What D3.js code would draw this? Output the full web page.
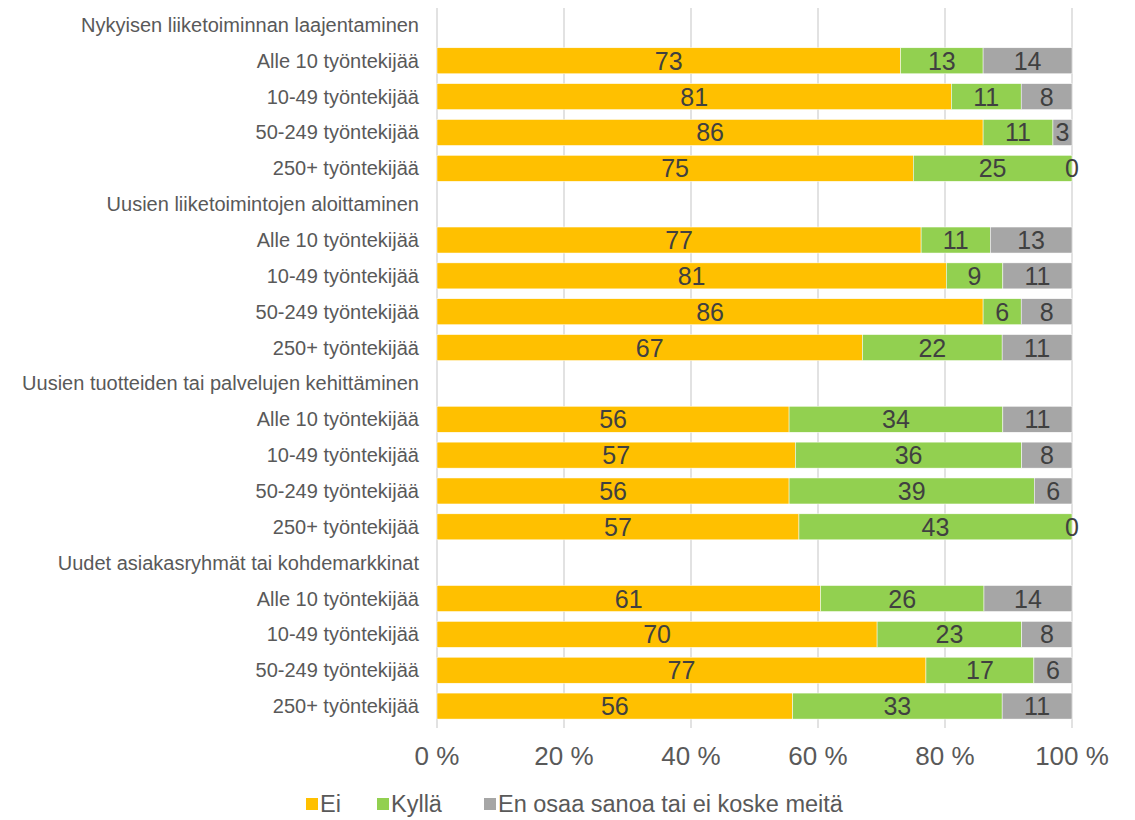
<!DOCTYPE html>
<html>
<head>
<meta charset="utf-8">
<script src="https://cdn.jsdelivr.net/npm/d3@7"></script>
<style>
  body { margin: 0; background: #fff; }
  svg { font-family: "Liberation Sans", Arial, sans-serif; }
</style>
</head>
<body>
<svg width="1135" height="820"></svg>
<script>
// rows: group headers have no values
var rows = [
    "Nykyisen liiketoiminnan laajentaminen",
    "Alle 10 työntekijää", "10-49 työntekijää", "50-249 työntekijää", "250+ työntekijää",
    "Uusien liiketoimintojen aloittaminen",
    "Alle 10 työntekijää", "10-49 työntekijää", "50-249 työntekijää", "250+ työntekijää",
    "Uusien tuotteiden tai palvelujen kehittäminen",
    "Alle 10 työntekijää", "10-49 työntekijää", "50-249 työntekijää", "250+ työntekijää",
    "Uudet asiakasryhmät tai kohdemarkkinat",
    "Alle 10 työntekijää", "10-49 työntekijää", "50-249 työntekijää", "250+ työntekijää"
];
var ei    = [null, 73, 81, 86, 75, null, 77, 81, 86, 67, null, 56, 57, 56, 57, null, 61, 70, 77, 56];
var kylla = [null, 13, 11, 11, 25, null, 11, 9, 6, 22, null, 34, 36, 39, 43, null, 26, 23, 17, 33];
var eos   = [null, 14, 8, 3, 0, null, 13, 11, 8, 11, null, 11, 8, 6, 0, null, 14, 8, 6, 11];
var seriesNames = ["Ei", "Kyllä", "En osaa sanoa tai ei koske meitä"];
var ticks = [0, 20, 40, 60, 80, 100];

var colors = ["#FFC000", "#92D050", "#A6A6A6"];

var svg = d3.select("svg"),
    margin = {top: 7, left: 437, right: 63},
    width = 1135 - margin.left - margin.right,
    height = 717;

var x = d3.scaleLinear().domain([0, 100]).range([0, width]);
var y = d3.scaleBand().domain(d3.range(rows.length)).range([0, height])
    .paddingInner(0.275).paddingOuter(0.1375);

var g = svg.append("g").attr("transform", "translate(" + margin.left + "," + margin.top + ")");

// gridlines
g.selectAll(".grid").data(ticks).enter().append("line")
    .attr("x1", function (d) { return x(d); })
    .attr("x2", function (d) { return x(d); })
    .attr("y1", 1).attr("y2", height + 4)
    .attr("stroke", "#D9D9D9").attr("stroke-width", 1.5);

// stacked data normalised to 100 %
var data = [];
rows.forEach(function (r, i) {
    if (ei[i] == null) return;
    var vals = [ei[i], kylla[i], eos[i]];
    var total = d3.sum(vals), acc = 0;
    vals.forEach(function (v, k) {
        var x0 = acc / total * 100;
        acc += v;
        data.push({row: i, k: k, v: v, x0: x0, x1: acc / total * 100});
    });
});

g.selectAll(".bar").data(data).enter().append("rect")
    .attr("x", function (d) { return x(d.x0); })
    .attr("width", function (d) { return x(d.x1) - x(d.x0); })
    .attr("y", function (d) { return y(d.row); })
    .attr("height", y.bandwidth())
    .attr("fill", function (d) { return colors[d.k]; })
    .attr("stroke", "#fff").attr("stroke-width", 0.5);

g.selectAll(".lbl").data(data).enter().append("text")
    .attr("x", function (d) { return x((d.x0 + d.x1) / 2); })
    .attr("y", function (d) { return y(d.row) + y.bandwidth() / 2; })
    .attr("dy", "0.36em")
    .attr("text-anchor", "middle")
    .attr("font-size", 25)
    .attr("fill", "#404040")
    .text(function (d) { return d.v; });

// row labels
g.selectAll(".cat").data(rows).enter().append("text")
    .attr("x", -18)
    .attr("y", function (d, i) { return y(i) + y.bandwidth() / 2; })
    .attr("dy", "0.35em")
    .attr("text-anchor", "end")
    .attr("font-size", 20)
    .attr("fill", "#595959")
    .text(function (d) { return d; });

// x axis labels
g.selectAll(".tick-lbl").data(ticks).enter().append("text")
    .attr("x", function (d) { return x(d); })
    .attr("y", 758)
    .attr("text-anchor", "middle")
    .attr("font-size", 26)
    .attr("fill", "#595959")
    .text(function (d) { return d + " %"; });

// legend
var legendX = [306, 377, 484];
var lg = svg.selectAll(".legend").data(seriesNames).enter().append("g")
    .attr("transform", function (d, i) { return "translate(" + legendX[i] + ",804)"; });
lg.append("rect").attr("x", 0).attr("y", -6).attr("width", 12).attr("height", 12)
    .attr("fill", function (d, i) { return colors[i]; });
lg.append("text").attr("x", 14).attr("dy", "0.36em")
    .attr("font-size", 23.5).attr("fill", "#595959")
    .text(function (d) { return d; });
</script>
</body>
</html>
